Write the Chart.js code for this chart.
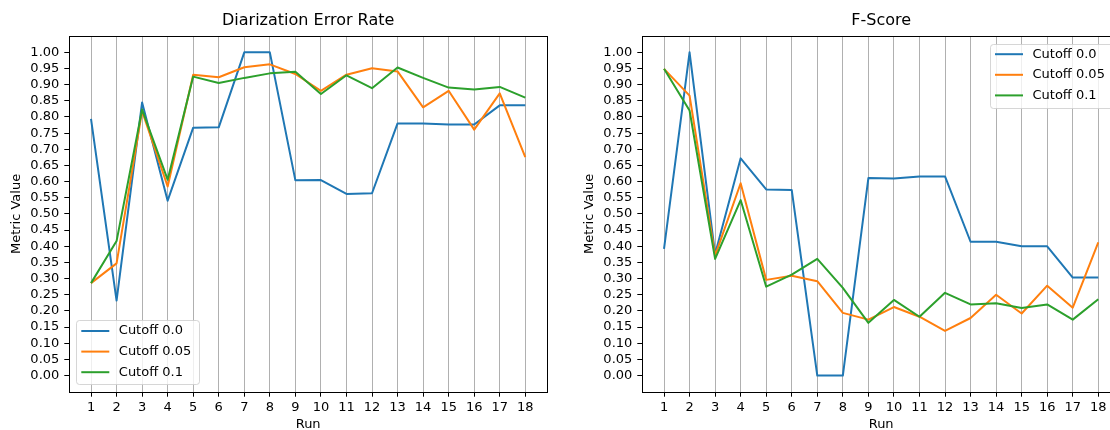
<!DOCTYPE html>
<html>
<head>
<meta charset="utf-8">
<script src="https://cdn.jsdelivr.net/npm/chart.js@4.4.1/dist/chart.umd.min.js"></script>
<style>
  html, body { margin: 0; padding: 0; background: #fff; width: 1110px; height: 430px; overflow: hidden; position: relative; }
  canvas { position: absolute; top: 0; }
  #der { left: 0; }
  #fscore { left: 573px; }
</style>
</head>
<body>
<canvas id="der" width="555" height="432"></canvas>
<canvas id="fscore" width="555" height="432"></canvas>
<script>
const runs = [1, 2, 3, 4, 5, 6, 7, 8, 9, 10, 11, 12, 13, 14, 15, 16, 17, 18];
const yTickValues = [0.00, 0.05, 0.10, 0.15, 0.20, 0.25, 0.30, 0.35, 0.40, 0.45, 0.50,
                     0.55, 0.60, 0.65, 0.70, 0.75, 0.80, 0.85, 0.90, 0.95, 1.00];
const seriesLabels = ['Cutoff 0.0', 'Cutoff 0.05', 'Cutoff 0.1'];
const seriesColors = ['#1f77b4', '#ff7f0e', '#2ca02c'];

const derCutoff00  = [0.794, 0.232, 0.845, 0.541, 0.767, 0.768, 1.000, 1.000, 0.604, 0.605, 0.562, 0.564, 0.780, 0.780, 0.777, 0.777, 0.836, 0.836];
const derCutoff005 = [0.286, 0.347, 0.818, 0.585, 0.931, 0.923, 0.954, 0.963, 0.933, 0.881, 0.931, 0.951, 0.941, 0.830, 0.881, 0.761, 0.873, 0.676];
const derCutoff01  = [0.286, 0.416, 0.823, 0.606, 0.925, 0.905, 0.921, 0.935, 0.940, 0.871, 0.929, 0.889, 0.953, 0.921, 0.891, 0.885, 0.893, 0.860];

const fCutoff00  = [0.392, 1.000, 0.376, 0.672, 0.576, 0.574, 0.000, 0.000, 0.611, 0.610, 0.616, 0.616, 0.414, 0.414, 0.400, 0.400, 0.303, 0.303];
const fCutoff005 = [0.949, 0.866, 0.371, 0.595, 0.296, 0.309, 0.292, 0.194, 0.173, 0.212, 0.182, 0.138, 0.178, 0.250, 0.192, 0.278, 0.210, 0.412];
const fCutoff01  = [0.949, 0.820, 0.361, 0.543, 0.275, 0.312, 0.361, 0.271, 0.163, 0.234, 0.182, 0.256, 0.220, 0.224, 0.209, 0.220, 0.173, 0.236];

Chart.defaults.font.family = "'DejaVu Sans', sans-serif";
Chart.defaults.color = '#000';

const frame = {
  id: 'frame',
  afterDatasetsDraw(chart) {
    const {ctx, chartArea: a} = chart;
    ctx.save();
    ctx.strokeStyle = '#000';
    ctx.lineWidth = 1;
    const l = Math.round(a.left) + 0.5, r = Math.round(a.right) + 0.5;
    const t = Math.round(a.top) + 0.5, b = Math.round(a.bottom) + 0.5;
    ctx.strokeRect(l, t, r - l, b - t);
    ctx.restore();
  }
};

const mplLegend = {
  id: 'mplLegend',
  afterDraw(chart, args, opts) {
    const {ctx, chartArea: a} = chart;
    const w = 123, h = 64;
    const x = opts.loc === 'upper right' ? a.right - 7 - w : a.left + 7;
    const y = opts.loc === 'upper right' ? a.top + 7.3 : a.bottom - 7.4 - h;
    ctx.save();
    ctx.beginPath();
    ctx.roundRect(Math.round(x) + 0.5, Math.round(y) + 0.5, w, h, 3);
    ctx.fillStyle = 'rgba(255,255,255,0.8)';
    ctx.fill();
    ctx.strokeStyle = 'rgba(204,204,204,0.8)';
    ctx.lineWidth = 1;
    ctx.stroke();
    ctx.font = "13px 'DejaVu Sans'";
    ctx.textBaseline = 'middle';
    ctx.textAlign = 'left';
    chart.data.datasets.forEach((ds, i) => {
      const cy = y + 10.7 + 20.6 * i;
      ctx.beginPath();
      ctx.moveTo(x + 5, cy);
      ctx.lineTo(x + 33, cy);
      ctx.strokeStyle = ds.borderColor;
      ctx.lineWidth = 2;
      ctx.stroke();
      ctx.fillStyle = '#000';
      ctx.fillText(ds.label, x + 42.5, cy);
    });
    ctx.restore();
  }
};

function makeDatasets(seriesList) {
  return seriesList.map((vals, i) => ({
    label: seriesLabels[i],
    data: runs.map((r, k) => ({x: r, y: vals[k]})),
    borderColor: seriesColors[i],
    backgroundColor: seriesColors[i],
    borderWidth: 2,
    pointRadius: 0,
    tension: 0,
    borderJoinStyle: 'round',
    fill: false,
    order: 2 - i
  }));
}

function makeChart(id, title, seriesList, legendLoc) {
  return new Chart(document.getElementById(id), {
    type: 'line',
    data: { datasets: makeDatasets(seriesList) },
    plugins: [frame, mplLegend],
    options: {
      responsive: false,
      animation: false,
      devicePixelRatio: 1,
      layout: { padding: { left: 0, right: 8, top: 0, bottom: 0 } },
      plugins: {
        legend: { display: false },
        tooltip: { enabled: false },
        title: {
          display: true,
          fullSize: false,
          text: title,
          color: '#000',
          font: { size: 16, weight: 'normal' },
          padding: { top: 11, bottom: 6 }
        },
        mplLegend: { loc: legendLoc }
      },
      scales: {
        x: {
          type: 'linear',
          min: 0.15,
          max: 18.85,
          afterBuildTicks: (s) => { s.ticks = runs.map(v => ({value: v})); },
          afterFit: (s) => { s.height = 40.3; },
          ticks: { autoSkip: false, maxRotation: 0, padding: 3, font: { size: 13 }, color: '#000',
                   callback: (v) => String(v) },
          grid: { display: true, color: '#b0b0b0', lineWidth: 1, drawTicks: true, tickLength: 5, tickColor: '#000', drawOnChartArea: true },
          border: { display: false },
          title: { display: true, text: 'Run', font: { size: 13 }, color: '#000', padding: { top: 0, bottom: 0 } }
        },
        y: {
          type: 'linear',
          min: -0.05,
          max: 1.05,
          afterBuildTicks: (s) => { s.ticks = yTickValues.map(v => ({value: v})); },
          afterFit: (s) => { s.width = 69.3; },
          ticks: { autoSkip: false, padding: 5, font: { size: 13 }, color: '#000',
                   callback: (v) => Number(v).toFixed(2) },
          grid: { display: true, drawOnChartArea: false, drawTicks: true, tickLength: 5, tickColor: '#000' },
          border: { display: false },
          title: { display: true, text: 'Metric Value', font: { size: 13 }, color: '#000', padding: { top: 9, bottom: 0 } }
        }
      }
    }
  });
}

makeChart('der', 'Diarization Error Rate', [derCutoff00, derCutoff005, derCutoff01], 'lower left');
makeChart('fscore', 'F-Score', [fCutoff00, fCutoff005, fCutoff01], 'upper right');
</script>
</body>
</html>
